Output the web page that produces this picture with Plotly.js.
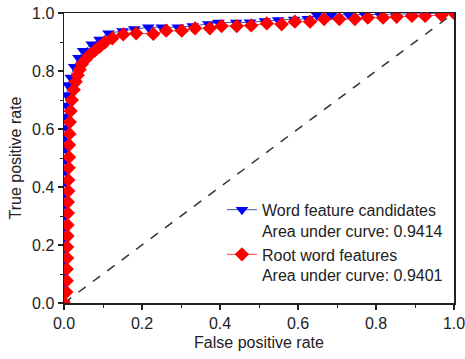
<!DOCTYPE html>
<html>
<head>
<meta charset="utf-8">
<script src="https://cdn.plot.ly/plotly-3.0.1.min.js"></script>
<style>html,body{margin:0;padding:0;background:#fff;}#chart{width:465px;height:359px;}</style>
</head>
<body>
<div id="chart"></div>
<script>
// Word feature candidates (blue triangles)
const wordFPR = [0,0.002,0.002,0.002,0.003,0.003,0.003,0.003,0.003,0.004,0.004,0.004,0.004,0.004,0.005,0.005,0.005,0.005,0.006,0.007,0.010,0.017,0.026,0.037,0.049,0.071,0.091,0.114,0.150,0.180,0.216,0.251,0.292,0.330,0.370,0.396,0.441,0.477,0.515,0.549,0.590,0.625,0.648,0.686,0.729,0.770,0.810,0.850,0.890,0.930,0.970,1.0];
const wordTPR = [0,0.035,0.073,0.111,0.149,0.187,0.225,0.263,0.301,0.339,0.377,0.415,0.453,0.491,0.529,0.567,0.605,0.643,0.681,0.717,0.752,0.778,0.815,0.846,0.870,0.892,0.909,0.930,0.938,0.945,0.951,0.951,0.951,0.955,0.962,0.967,0.967,0.968,0.972,0.976,0.978,0.980,0.993,0.993,0.995,0.995,0.995,0.996,0.997,0.998,0.999,1.0];
// Root word features (red diamonds)
const rootFPR = [0,0.006,0.007,0.007,0.008,0.008,0.009,0.009,0.010,0.010,0.011,0.011,0.012,0.013,0.013,0.014,0.015,0.017,0.020,0.025,0.030,0.035,0.040,0.046,0.055,0.066,0.079,0.092,0.105,0.124,0.152,0.185,0.229,0.262,0.302,0.336,0.374,0.404,0.443,0.480,0.520,0.558,0.592,0.631,0.667,0.706,0.746,0.779,0.818,0.853,0.892,0.926,0.968,1.0];
const rootTPR = [0,0.038,0.077,0.117,0.155,0.193,0.231,0.269,0.310,0.348,0.386,0.424,0.466,0.503,0.545,0.583,0.624,0.662,0.700,0.735,0.763,0.785,0.805,0.824,0.840,0.856,0.870,0.884,0.899,0.913,0.926,0.930,0.928,0.939,0.939,0.947,0.947,0.955,0.955,0.957,0.964,0.961,0.970,0.970,0.979,0.979,0.979,0.984,0.984,0.987,0.990,0.990,0.993,1.0];
// Chance diagonal
const diagX = [0, 1];
const diagY = [0, 1];

const seriesNames = ['Word feature candidates<br>Area under curve: 0.9414', 'Root word features<br>Area under curve: 0.9401'];
const xTitle = 'False positive rate';
const yTitle = 'True positive rate';

const FONT = 'Arial, "Liberation Sans", sans-serif';

const traces = [
  {x: diagX, y: diagY, mode: 'lines', showlegend: false, hoverinfo: 'skip',
   line: {color: '#333333', width: 1.5, dash: 'dash'}},
  {x: wordFPR, y: wordTPR, mode: 'lines+markers', name: seriesNames[0],
   line: {color: '#4050a8', width: 1},
   marker: {symbol: 'triangle-down', size: 11, color: '#0000ff'}},
  {x: rootFPR, y: rootTPR, mode: 'lines+markers', name: seriesNames[1],
   line: {color: '#ff4040', width: 1},
   marker: {symbol: 'diamond', size: 11, color: '#ff0000'}}
];

const axisCommon = {
  range: [0, 1], dtick: 0.2, tick0: 0, tickformat: '.1f',
  showgrid: false, zeroline: false,
  showline: true, linecolor: '#222', linewidth: 1.5, mirror: true,
  ticks: 'outside', ticklen: 5, tickwidth: 1.2, tickcolor: '#222',
  minor: {dtick: 0.1, ticks: 'outside', ticklen: 3, tickwidth: 1, tickcolor: '#222'},
  tickfont: {family: FONT, size: 16, color: '#222'},
  ticklabeloverflow: 'allow'
};

const layout = {
  width: 465, height: 359,
  margin: {l: 64, r: 11, t: 13, b: 56},
  paper_bgcolor: '#fff', plot_bgcolor: '#fff',
  font: {family: FONT, color: '#222'},
  xaxis: Object.assign({}, axisCommon, {title: {text: xTitle, font: {family: FONT, size: 16, color: '#222'}, standoff: 6}}),
  yaxis: Object.assign({}, axisCommon, {title: {text: yTitle, font: {family: FONT, size: 16, color: '#222'}, standoff: 6}}),
  legend: {x: 0.405, y: 0.38, xanchor: 'left', yanchor: 'top', bgcolor: 'rgba(255,255,255,0)',
    font: {family: FONT, size: 16, color: '#222'}, valign: 'top', tracegroupgap: 0, itemwidth: 30},
  showlegend: true
};

Plotly.newPlot('chart', traces, layout, {staticPlot: true, displayModeBar: false});
</script>
</body>
</html>
